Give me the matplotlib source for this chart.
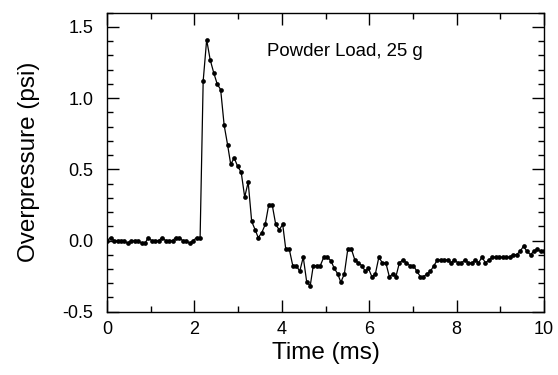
import numpy as np
import matplotlib
matplotlib.use("Agg")
import matplotlib.pyplot as plt
from matplotlib.ticker import MultipleLocator

plt.rcParams['font.family'] = ['Liberation Sans', 'DejaVu Sans']

# sample times (ms), 128 samples over 0-10 ms
time_ms = [
    0.00, 0.08, 0.16, 0.24, 0.31, 0.39, 0.47, 0.55, 0.63, 0.71,
    0.79, 0.87, 0.94, 1.02, 1.10, 1.18, 1.26, 1.34, 1.42, 1.50,
    1.57, 1.65, 1.73, 1.81, 1.89, 1.97, 2.05, 2.13, 2.20, 2.28,
    2.36, 2.44, 2.52, 2.60, 2.68, 2.76, 2.83, 2.91, 2.99, 3.07,
    3.15, 3.23, 3.31, 3.39, 3.46, 3.54, 3.62, 3.70, 3.78, 3.86,
    3.94, 4.02, 4.09, 4.17, 4.25, 4.33, 4.41, 4.49, 4.57, 4.65,
    4.72, 4.80, 4.88, 4.96, 5.04, 5.12, 5.20, 5.28, 5.35, 5.43,
    5.51, 5.59, 5.67, 5.75, 5.83, 5.91, 5.98, 6.06, 6.14, 6.22,
    6.30, 6.38, 6.46, 6.54, 6.61, 6.69, 6.77, 6.85, 6.93, 7.01,
    7.09, 7.17, 7.24, 7.32, 7.40, 7.48, 7.56, 7.64, 7.72, 7.80,
    7.87, 7.95, 8.03, 8.11, 8.19, 8.27, 8.35, 8.43, 8.50, 8.58,
    8.66, 8.74, 8.82, 8.90, 8.98, 9.06, 9.13, 9.21, 9.29, 9.37,
    9.45, 9.53, 9.61, 9.69, 9.76, 9.84, 9.92, 10.00,
]

# overpressure (psi)
overpressure = [
    # baseline before arrival
    0.00, 0.02, 0.00, 0.00, 0.00, 0.00, -0.02, 0.00, 0.00, 0.00,
    -0.02, -0.02, 0.02, 0.00, 0.00, 0.00, 0.02, 0.00, 0.00, 0.00,
    0.02, 0.02, 0.00, 0.00, -0.02, 0.00, 0.02, 0.02,
    # shock and decay
    1.12, 1.41, 1.27, 1.18, 1.10, 1.06, 0.81, 0.67, 0.535, 0.58,
    0.52, 0.48, 0.305, 0.41, 0.134, 0.075, 0.02, 0.054, 0.113, 0.25,
    0.25, 0.113, 0.075, 0.113, -0.061, -0.061, -0.176, -0.176,
    # negative phase / tail
    -0.216, -0.117, -0.293, -0.317, -0.176, -0.176, -0.176, -0.117, -0.117, -0.141,
    -0.195, -0.235, -0.293, -0.235, -0.059, -0.059, -0.136, -0.157, -0.176, -0.216,
    -0.195, -0.254, -0.235, -0.117, -0.157, -0.157, -0.254, -0.235, -0.254, -0.157,
    -0.136, -0.157, -0.176, -0.176, -0.216, -0.254, -0.254, -0.235, -0.216, -0.176,
    -0.136, -0.136, -0.136, -0.136, -0.157, -0.136, -0.157, -0.157, -0.136, -0.157,
    -0.157, -0.136, -0.157, -0.117, -0.157, -0.136, -0.117, -0.117, -0.117, -0.117,
    -0.117, -0.117, -0.099, -0.099, -0.077, -0.040, -0.077, -0.099, -0.077, -0.059,
    -0.077, -0.077,
]

label_text = "Powder Load, 25 g"

fig = plt.figure(figsize=(5.58, 3.75), dpi=100)
ax = fig.add_axes([0.1918, 0.1688, 0.7832, 0.7973])

ax.plot(time_ms, overpressure, color='black', lw=0.9,
        marker='o', markersize=3.4, markerfacecolor='black', markeredgewidth=0)

ax.set_xlim(0, 10)
ax.set_ylim(-0.5, 1.6)

ax.xaxis.set_major_locator(MultipleLocator(2))
ax.xaxis.set_minor_locator(MultipleLocator(1))
ax.yaxis.set_major_locator(MultipleLocator(0.5))
ax.yaxis.set_minor_locator(MultipleLocator(0.1))
ax.yaxis.set_major_formatter(plt.FormatStrFormatter('%.1f'))

ax.tick_params(which='both', direction='in', top=True, right=True,
               width=1.0, labelsize=13)
ax.tick_params(which='major', length=8.5)
ax.tick_params(which='minor', length=4.3)
ax.tick_params(axis='y', which='major', pad=10)
ax.tick_params(axis='x', which='major', pad=7)

for sp in ax.spines.values():
    sp.set_linewidth(1.0)

ax.set_xlabel("Time (ms)", fontsize=17.5)
ax.set_ylabel("Overpressure (psi)", fontsize=17.5)
ax.xaxis.set_label_coords(0.5, -0.103)
ax.yaxis.set_label_coords(-0.153, 0.5)

ax.text(0.366, 0.855, label_text, transform=ax.transAxes, fontsize=13.4,
        ha='left', va='baseline')

fig.savefig("out.png", dpi=100)
